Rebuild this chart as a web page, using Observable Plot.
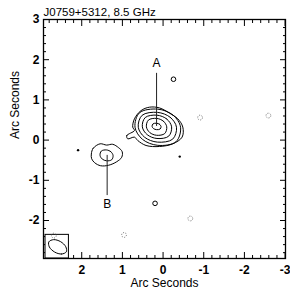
<!DOCTYPE html>
<html><head><meta charset="utf-8">
<script src="https://cdn.jsdelivr.net/npm/d3@7"></script>
<script src="https://cdn.jsdelivr.net/npm/@observablehq/plot@0.6"></script>
<style>html,body{margin:0;padding:0;background:#fff}#chart svg{display:block}</style>
</head><body><div id="chart"></div>
<script>
const title = "J0759+5312, 8.5 GHz";
const axisLabel = "Arc Seconds";
const xMajor = [2, 1, 0, -1, -2, -3];
const yMajor = [-2, -1, 0, 1, 2, 3];
const minorTicks = [-2.8,-2.6,-2.4,-2.2,-1.8,-1.6,-1.4,-1.2,-0.8,-0.6,-0.4,-0.2,0.2,0.4,0.6,0.8,1.2,1.4,1.6,1.8,2.2,2.4,2.6,2.8];

// Contours of component A (outer to inner), in arc seconds [x, y]
const contourA1 = [[0.704,0.238],[0.894,0.114],[0.869,0.032],[0.704,0.074],[0.623,-0.010],[0.419,-0.134],[0.089,-0.159],[-0.239,-0.092],[-0.468,0.074],[-0.485,0.323],[-0.362,0.529],[-0.158,0.670],[0.089,0.801],[0.335,0.819],[0.542,0.734],[0.704,0.529],[0.746,0.323]];
const contourA2 = [[-0.43,0.32],[-0.245,0.622],[0.13,0.77],[0.578,0.68],[0.69,0.32],[0.505,0.018],[0.13,-0.13],[-0.318,-0.04]];
const contourA3 = [[-0.33,0.32],[-0.175,0.568],[0.14,0.69],[0.516,0.616],[0.61,0.32],[0.455,0.072],[0.14,-0.05],[-0.236,0.024]];
const contourA4 = [[-0.21,0.33],[-0.091,0.524],[0.15,0.62],[0.438,0.562],[0.51,0.33],[0.391,0.136],[0.15,0.04],[-0.138,0.098]];
const contourA5 = [[-0.09,0.33],[-0.008,0.471],[0.16,0.54],[0.36,0.498],[0.41,0.33],[0.328,0.189],[0.16,0.12],[-0.04,0.162]];
const contourA6 = [[0.05,0.34],[0.086,0.394],[0.16,0.42],[0.248,0.404],[0.27,0.34],[0.234,0.286],[0.16,0.26],[0.072,0.276]];
// Contours of component B
const contourB1 = [[1.764,-0.347],[1.719,-0.203],[1.547,-0.092],[1.387,-0.124],[1.239,-0.104],[1.091,-0.191],[1.005,-0.290],[1.017,-0.427],[1.140,-0.538],[1.337,-0.625],[1.534,-0.638],[1.682,-0.563],[1.756,-0.464]];
const contourB2 = [[1.23,-0.38],[1.283,-0.29],[1.39,-0.245],[1.518,-0.272],[1.55,-0.38],[1.497,-0.47],[1.39,-0.515],[1.262,-0.488]];
// Restoring beam
const beamShape = [[2.379,-2.779],[2.495,-2.834],[2.667,-2.784],[2.796,-2.658],[2.808,-2.531],[2.692,-2.476],[2.520,-2.526],[2.392,-2.653]];
const beamBox = [{x1: 2.89, x2: 2.315, y1: -2.945, y2: -2.357}];

// Small positive and negative features
const tinyBlobs = [{x: 2.09, y: -0.25}, {x: -0.41, y: -0.41}];
const smallRings = [{x: 0.197, y: -1.573}, {x: -0.256, y: 1.514}];
const negativeBlobs = [{x: -0.91, y: 0.56}, {x: -2.59, y: 0.61}, {x: 0.96, y: -2.36}, {x: -0.67, y: -1.95}, {x: 2.685, y: -2.375}];

// Component labels and leader lines
const compLabels = [{name: "A", x: 0.16, y: 1.92}, {name: "B", x: 1.375, y: -1.6}];
const leaders = [{x: 0.16, y1: 1.66, y2: 0.34}, {x: 1.375, y1: -0.38, y2: -1.38}];

const contours = [
  ["A1", contourA1], ["A2", contourA2], ["A3", contourA3], ["A4", contourA4], ["A5", contourA5], ["A6", contourA6],
  ["B1", contourB1], ["B2", contourB2]
].flatMap(([id, pts]) => pts.map(([x, y]) => ({id, x, y})));
const beamPts = beamShape.map(([x, y]) => ({x, y}));

const fmt = d => String(d);
const plot = Plot.plot({
  width: 290, height: 293,
  marginLeft: 43, marginRight: 5, marginTop: 19, marginBottom: 35,
  x: {domain: [2.94, -3.01], axis: null},
  y: {domain: [-2.945, 3], axis: null},
  style: {fontFamily: "'Liberation Sans', Arial, sans-serif", fontSize: "12px", color: "black", background: "white"},
  marks: [
    Plot.axisX(xMajor, {anchor: "bottom", tickSize: -6, tickPadding: 12.5, tickFormat: fmt, label: null, fontSize: 12, fontWeight: "bold"}),
    Plot.axisX(minorTicks, {anchor: "bottom", tickSize: -3, fill: "none", label: null}),
    Plot.axisX(xMajor, {anchor: "top", tickSize: -6, fill: "none", label: null}),
    Plot.axisX(minorTicks, {anchor: "top", tickSize: -3, fill: "none", label: null}),
    Plot.axisY(yMajor, {anchor: "left", tickSize: -6, tickPadding: 10, tickFormat: fmt, label: null, fontSize: 12, fontWeight: "bold"}),
    Plot.axisY(minorTicks, {anchor: "left", tickSize: -3, fill: "none", label: null}),
    Plot.axisY(yMajor, {anchor: "right", tickSize: -6, fill: "none", label: null}),
    Plot.axisY(minorTicks, {anchor: "right", tickSize: -3, fill: "none", label: null}),
    Plot.rect(beamBox, {x1: "x1", x2: "x2", y1: "y1", y2: "y2", fill: "white", stroke: "black", strokeWidth: 1}),
    Plot.line(beamPts, {x: "x", y: "y", curve: "catmull-rom-closed", stroke: "black", strokeWidth: 1}),
    Plot.frame({stroke: "black", strokeWidth: 1.3}),
    Plot.line(contours, {x: "x", y: "y", z: "id", curve: "catmull-rom-closed", stroke: "black", strokeWidth: 1}),
    Plot.dot(tinyBlobs, {x: "x", y: "y", r: 1.2, fill: "black", stroke: "none"}),
    Plot.dot(smallRings, {x: "x", y: "y", r: 2.3, fill: "none", stroke: "black", strokeWidth: 1}),
    Plot.dot(negativeBlobs, {x: "x", y: "y", r: 2.4, fill: "none", stroke: "#555", strokeWidth: 0.8, strokeDasharray: "1,1.3"}),
    Plot.ruleX(leaders, {x: "x", y1: "y1", y2: "y2", stroke: "#222", strokeWidth: 1}),
    Plot.text(compLabels, {x: "x", y: "y", text: "name", fontSize: 12, fill: "black"}),
    Plot.text([title], {frameAnchor: "top-left", dy: -7.2, textAnchor: "start", lineAnchor: "middle", fontSize: 11.5, fill: "black"}),
    Plot.text([axisLabel], {frameAnchor: "bottom", dy: 24.7, lineAnchor: "middle", fontSize: 12, fill: "black"}),
    Plot.text([axisLabel], {frameAnchor: "left", dx: -28.5, rotate: -90, lineAnchor: "middle", fontSize: 12, fill: "black"})
  ]
});
document.getElementById("chart").append(plot);
</script>
</body></html>
